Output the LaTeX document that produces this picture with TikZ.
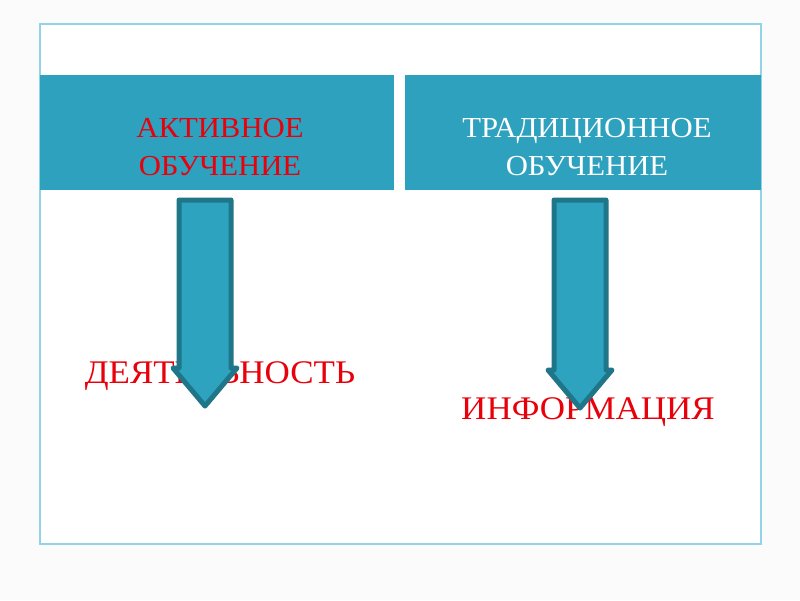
\documentclass[tikz,border=0pt]{standalone}
\usepackage{fontspec}
\setmainfont{Liberation Serif}
\newfontfamily\widefont[FakeStretch=1.06]{Liberation Serif}
\definecolor{cell}{HTML}{2EA1BE}
\definecolor{arrowfill}{HTML}{2EA3C0}
\definecolor{arrowline}{HTML}{1F7689}
\definecolor{frame}{HTML}{92D3EA}
\definecolor{txtred}{HTML}{E8000B}
\tikzset{
  headcell/.style={fill=cell, draw=none},
  headtext/.style={align=center, font=\widefont\fontsize{29}{38}\selectfont, inner sep=0pt},
  bigtext/.style={text=txtred, font=\widefont\fontsize{33}{40}\selectfont, inner sep=0pt},
  downarrow/.style={fill=arrowfill, draw=arrowline, line width=5pt, line join=round}
}
\begin{document}
\begin{tikzpicture}[x=1pt,y=-1pt]
\useasboundingbox (0,0) rectangle (800,600);
\fill[white!97!gray] (0,0) rectangle (800,600);
\fill[white] (40,24) rectangle (761,544);
\draw[frame, line width=1.5pt] (40,24) rectangle (761,544);
\fill[headcell] (40,75) rectangle (394,190);
\fill[headcell] (405,75) rectangle (761,190);
\node[headtext, text=txtred, anchor=base] (ta) at (220,175) {АКТИВНОЕ\\ОБУЧЕНИЕ};
\node[headtext, text=white, anchor=base] (tt) at (587,175) {ТРАДИЦИОННОЕ\\ОБУЧЕНИЕ};
\node[bigtext, anchor=base] (d) at (220,383) {ДЕЯТЕЛЬНОСТЬ};
\node[bigtext, anchor=base] (i) at (588,419) {ИНФОРМАЦИЯ};
\draw[downarrow] (179,200) -- (231,200) -- (231,368) -- (237,368) -- (205,406) -- (173,368) -- (179,368) -- cycle;
\draw[downarrow] (554,200) -- (606,200) -- (606,370) -- (612,370) -- (580,408) -- (548,370) -- (554,370) -- cycle;
\end{tikzpicture}
\end{document}
